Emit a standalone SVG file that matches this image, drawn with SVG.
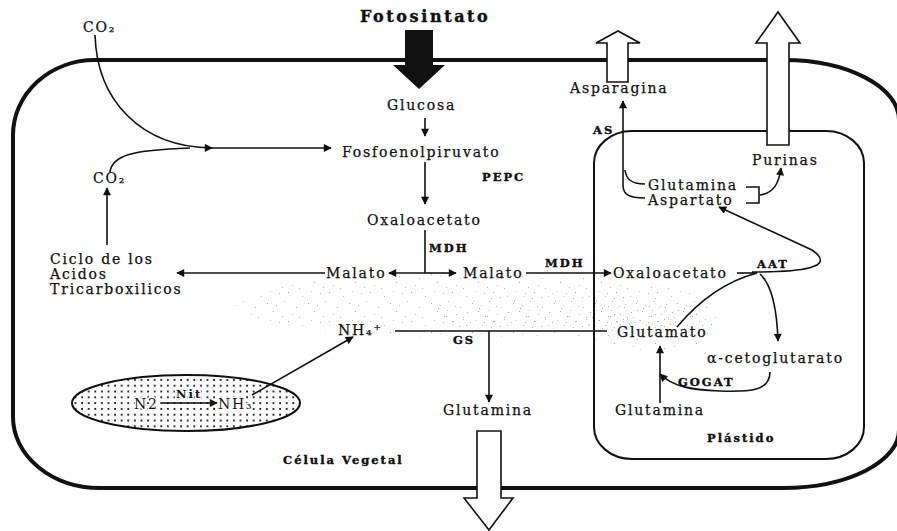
<svg xmlns="http://www.w3.org/2000/svg" width="897" height="531" viewBox="0 0 897 531">
<style>
.t{font-family:"DejaVu Serif","Liberation Serif",serif;font-size:14px;letter-spacing:1.8px;fill:#111;stroke:#111;stroke-width:0.25}
.b{font-family:"DejaVu Serif","Liberation Serif",serif;font-size:11.5px;font-weight:bold;letter-spacing:2px;fill:#111;stroke:#111;stroke-width:0.4}
.w{paint-order:stroke;stroke:#fff;stroke-width:3}
.c{fill:none;stroke:#111;stroke-width:1.6}
.a{marker-end:url(#ah)}
.h{fill:#fff;stroke:#111;stroke-width:1.6}
</style>
<defs>
<marker id="ah" viewBox="0 0 10 10" refX="9" refY="5" markerWidth="10" markerHeight="8" orient="auto" markerUnits="userSpaceOnUse"><path d="M0,0 L10,5 L0,10 z" fill="#111"/></marker>
<pattern id="dots" width="6.6" height="5.8" patternUnits="userSpaceOnUse"><rect x="2" y="2" width="1.8" height="1.8" fill="#111"/></pattern>
<pattern id="spk" width="41" height="29" patternUnits="userSpaceOnUse">
<rect x="1" y="2" width="1" height="1" fill="#777"/><rect x="9" y="17" width="1" height="1" fill="#888"/><rect x="15" y="6" width="1" height="1" fill="#999"/><rect x="27" y="21" width="1" height="1" fill="#777"/><rect x="5" y="24" width="1" height="1" fill="#999"/><rect x="33" y="3" width="1" height="1" fill="#888"/><rect x="21" y="13" width="1" height="1" fill="#777"/><rect x="38" y="11" width="1" height="1" fill="#999"/><rect x="12" y="27" width="1" height="1" fill="#888"/><rect x="30" y="15" width="1" height="1" fill="#aaa"/><rect x="24" y="1" width="1" height="1" fill="#aaa"/><rect x="36" y="26" width="1" height="1" fill="#888"/>
</pattern>
</defs>

<g id="speckle" opacity="0.6">
<ellipse cx="470" cy="305" rx="240" ry="32" fill="url(#spk)"/>
<ellipse cx="560" cy="310" rx="140" ry="22" fill="url(#spk)" transform="translate(7,5)"/>
<ellipse cx="640" cy="322" rx="70" ry="25" fill="url(#spk)" transform="translate(13,3)"/>
</g>

<g id="cell">
<path d="M13,135 A82,75 0 0 1 95,60 L783,60 A115,60 0 0 1 899,120 L899,430 A116,58 0 0 1 783,488 L100,488 A87,71 0 0 1 13,417 Z" fill="none" stroke="#111" stroke-width="4"/>
<text class="b" x="283" y="464">Célula Vegetal</text>
</g>

<g id="plastid">
<rect x="594" y="131" width="270" height="328" rx="38" ry="32" fill="none" stroke="#111" stroke-width="2"/>
<text class="b" x="707" y="442">Plástido</text>
</g>

<g id="nodule">
<ellipse cx="186" cy="403" rx="114" ry="28" fill="url(#dots)" stroke="#111" stroke-width="2"/>
</g>

<g id="connectors">
<path class="c a" d="M95,35 C97,100 140,147 212,148"/>
<path class="c a" d="M205,148 L331,148"/>
<path class="c" d="M110,172 C112,156 130,150 190,148"/>
<path class="c a" d="M107,245 L107,188"/>
<path class="c a" d="M425,118 L425,136"/>
<path class="c a" d="M425,162 L425,204"/>
<path class="c" d="M425,230 L425,273"/>
<path class="c a" d="M425,273 L389,273"/>
<path class="c a" d="M425,273 L456,273"/>
<path class="c a" d="M325,273 L177,273"/>
<path class="c a" d="M526,273 L611,273"/>
<path class="c" d="M737,273 L757,273"/>
<path class="c a" d="M752,272 C800,272 838,268 812,250 L719,207"/>
<path class="c" d="M677,327 Q712,285 757,273"/>
<path class="c a" d="M760,274 C772,285 777,310 778,341"/>
<path class="c a" d="M770,372 C770,391 750,392 720,391 C690,390 672,386 660,374"/>
<path class="c a" d="M660,403 L660,346"/>
<path class="c" d="M395,331 L607,331"/>
<path class="c a" d="M489,331 L489,402"/>
<path class="c a" d="M252,395 L353,337"/>
<path class="c a" d="M162,403 L217,403"/>
<path class="c a" d="M645,198 C628,198 623,194 623,185 L623,101"/>
<path class="c" d="M645,184 C630,184 626,178 625,170"/>
<path class="c" d="M746,187 L759,187 L759,203 L746,203"/>
<path class="c a" d="M760,195 C774,193 779,183 781,168"/>
</g>

<g id="fotosintato">
<text x="360" y="22" font-family="'DejaVu Serif','Liberation Serif',serif" font-size="16" font-weight="bold" letter-spacing="2.6" fill="#111" stroke="#111" stroke-width="0.4">Fotosintato</text>
<polygon points="405,30 433,30 433,65 445,65 419,89 393,65 405,65" fill="#111"/>
</g>

<g id="out-asparagina"><polygon class="h" points="607,82 607,43 596,43 618,31 640,43 628,43 628,82"/></g>
<g id="out-purinas"><polygon class="h" points="767,145 767,43 756,43 778,12 800,43 789,43 789,145"/></g>
<g id="out-glutamina"><polygon class="h" points="477,431 477,498 464,498 489,530 513,498 501,498 501,431"/></g>

<g id="co2-top"><text class="t" x="83" y="32" font-size="13" letter-spacing="1">CO₂</text></g>
<g id="co2-left"><text class="t" x="93" y="183" font-size="13" letter-spacing="1">CO₂</text></g>
<g id="glucosa"><text class="t" x="387" y="110">Glucosa</text></g>
<g id="pep"><text class="t" x="342" y="157">Fosfoenolpiruvato</text><text class="b" x="482" y="181">PEPC</text></g>
<g id="oaa"><text class="t" x="367" y="225">Oxaloacetato</text><text class="b" x="429" y="252">MDH</text></g>
<g id="tca"><text class="t" x="50" y="264">Ciclo de los</text><text class="t" x="50" y="279">Acidos</text><text class="t" x="50" y="294">Tricarboxilicos</text></g>
<g id="malato1"><text class="t" x="326" y="278">Malato</text></g>
<g id="malato2"><text class="t" x="463" y="278">Malato</text><text class="b" x="545" y="267">MDH</text></g>
<g id="oaa2"><text class="t" x="613" y="278">Oxaloacetato</text><text class="b" x="757" y="268">AAT</text></g>
<g id="nh4"><text class="t" x="338" y="335" letter-spacing="0.5">NH₄⁺</text><text class="b" x="453" y="344">GS</text></g>
<g id="glutamato"><text class="t" x="617" y="337">Glutamato</text></g>
<g id="akg"><text class="t" x="707" y="363">α-cetoglutarato</text><text class="b" x="678" y="386">GOGAT</text></g>
<g id="glutamina-cyto"><text class="t" x="443" y="415">Glutamina</text></g>
<g id="glutamina-pl"><text class="t" x="615" y="415">Glutamina</text></g>
<g id="asparagina"><text class="t" x="570" y="93">Asparagina</text><text class="b" x="593" y="134">AS</text></g>
<g id="purinas"><text class="t" x="752" y="165">Purinas</text></g>
<g id="gln-asp"><text class="t" x="648" y="190">Glutamina</text><text class="t" x="648" y="205">Aspartato</text></g>
<g id="n2"><text class="t w" x="134" y="409" font-size="15" letter-spacing="0">N2</text><text class="b w" x="176" y="398" font-size="9" letter-spacing="1">Nit</text><text class="t w" x="218" y="409" letter-spacing="0">NH₃</text></g>
</svg>
